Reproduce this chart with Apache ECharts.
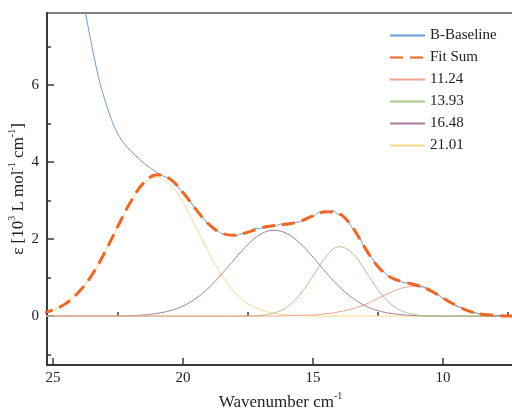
<!DOCTYPE html>
<html>
<head>
<meta charset="utf-8">
<script src="https://cdn.jsdelivr.net/npm/echarts@6/dist/echarts.min.js"></script>
<style>
  html, body { margin: 0; padding: 0; background: #fff; }
  #chart { width: 512px; height: 412px; }
</style>
</head>
<body>
<div id="chart"></div>
<script>
// x grid for the fitted curves (wavenumber, 10^3 cm^-1)
const xs = [25.5, 25, 24.5, 24, 23.5, 23, 22.5, 22, 21.5, 21, 20.5, 20, 19.5, 19, 18.5, 18, 17.5, 17, 16.5,
  16, 15.5, 15, 14.5, 14, 13.5, 13, 12.5, 12, 11.5, 11, 10.5, 10, 9.5, 9, 8.5, 8, 7.5, 7];

const fitSum = [0.07, 0.16, 0.33, 0.63, 1.07, 1.66, 2.34, 2.98, 3.47, 3.67, 3.56, 3.21, 2.77, 2.38, 2.15, 2.10, 2.18, 2.29, 2.35,
  2.39, 2.46, 2.60, 2.71, 2.66, 2.32, 1.77, 1.28, 1.00, 0.88, 0.80, 0.67, 0.47, 0.28, 0.13, 0.05, 0.02, 0.00, 0.00];

const peak1124 = [0, 0, 0, 0, 0, 0, 0, 0, 0, 0, 0, 0, 0, 0, 0, 0, 0, 0, 0,
  0.01, 0.02, 0.03, 0.06, 0.11, 0.19, 0.30, 0.46, 0.62, 0.74, 0.77, 0.67, 0.47, 0.28, 0.13, 0.05, 0.01, 0, 0];

const peak1393 = [0, 0, 0, 0, 0, 0, 0, 0, 0, 0, 0, 0, 0, 0, 0, 0, 0, 0.02, 0.08,
  0.23, 0.56, 1.04, 1.54, 1.80, 1.65, 1.19, 0.68, 0.31, 0.11, 0.03, 0, 0, 0, 0, 0, 0, 0, 0];

const peak1648 = [0, 0, 0, 0, 0, 0, 0, 0.01, 0.03, 0.07, 0.14, 0.26, 0.46, 0.74, 1.10, 1.49, 1.86, 2.13, 2.23,
  2.14, 1.89, 1.53, 1.13, 0.77, 0.48, 0.27, 0.14, 0.07, 0.03, 0.01, 0, 0, 0, 0, 0, 0, 0, 0];

const peak2101 = [0.07, 0.16, 0.33, 0.63, 1.07, 1.66, 2.33, 2.97, 3.44, 3.60, 3.42, 2.95, 2.31, 1.64, 1.05, 0.61, 0.32, 0.16, 0.07,
  0.03, 0.01, 0, 0, 0, 0, 0, 0, 0, 0, 0, 0, 0, 0, 0, 0, 0, 0, 0];

// measured spectrum (baseline corrected)
const dataX = [24.25, 24, 23.75, 23.5, 23.25, 23, 22.75, 22.5, 22.25, 22, 21.75, 21.5, 21.25, 21, 20.75,
  20.5, 20.25, 20, 19.75, 19.5, 19.25, 19, 18.75, 18.5, 18.25, 18, 17.75, 17.5, 17.25, 17, 16.75,
  16.5, 16.25, 16, 15.75, 15.5, 15.25, 15, 14.75, 14.5, 14.25, 14, 13.75, 13.5, 13.25, 13, 12.75,
  12.5, 12.25, 12, 11.75, 11.5, 11.25, 11, 10.75, 10.5, 10.25, 10, 9.75, 9.5, 9.25, 9, 8.75,
  8.5, 8.25, 8, 7.75, 7.5, 7.25];
const dataY = [9.6, 8.9, 7.87, 7.0, 6.2, 5.6, 5.1, 4.72, 4.47, 4.28, 4.12, 3.97, 3.84, 3.73, 3.63,
  3.57, 3.41, 3.20, 3.00, 2.76, 2.57, 2.37, 2.26, 2.14, 2.12, 2.09, 2.14, 2.17, 2.27, 2.28, 2.35,
  2.33, 2.39, 2.36, 2.43, 2.45, 2.56, 2.58, 2.69, 2.68, 2.74, 2.63, 2.56, 2.30, 2.09, 1.75, 1.53,
  1.26, 1.14, 0.98, 0.96, 0.86, 0.87, 0.78, 0.77, 0.65, 0.59, 0.45, 0.39, 0.26, 0.21, 0.11, 0.09,
  0.03, 0.04, 0.00, 0.02, -0.01, 0.07];

const xMajor = [25, 20, 15, 10];
const xMinor = [22.5, 17.5, 12.5, 7.5];
const yMajor = [0, 2, 4, 6];
const yMinor = [-1, 1, 3, 5, 7];

const font = 'Liberation Serif';
const axisColor = '#3a3a3a';

function pairs(x, y) {
  return x.map((v, i) => [v, y[i]]);
}

function curve(name, y, color, width) {
  return {
    name: name,
    type: 'line',
    data: pairs(xs, y),
    smooth: 0.4,
    symbol: 'none',
    lineStyle: { color: color, width: width },
    itemStyle: { color: color },
    z: 2
  };
}

let myChart = echarts.init(document.getElementById('chart'), null, { renderer: 'canvas' });

myChart.setOption({
  animation: false,
  backgroundColor: '#fff',
  grid: {
    left: 47, top: 13, right: -2, bottom: 47,
    outerBoundsMode: 'none',
    containLabel: false,
    show: true, borderColor: '#555', borderWidth: 1.5
  },
  legend: {
    orient: 'vertical',
    left: 389, top: 28,
    itemWidth: 35, itemHeight: 14, itemGap: 7,
    padding: 0,
    itemStyle: { opacity: 0 },
    textStyle: { fontFamily: font, fontSize: 15, color: '#222' },
    data: ['B-Baseline', 'Fit Sum', '11.24', '13.93', '16.48', '21.01']
  },
  xAxis: [
    {
      type: 'value', inverse: true, min: 7.27, max: 25.23,
      name: '{t|Wavenumber cm}{s|-1}',
      nameLocation: 'middle', nameGap: 24,
      nameTextStyle: {
        rich: {
          t: { fontFamily: font, fontSize: 17, color: '#222', verticalAlign: 'bottom', lineHeight: 20 },
          s: { fontFamily: font, fontSize: 10, color: '#222', verticalAlign: 'top', lineHeight: 20 }
        }
      },
      axisLine: { show: true, onZero: false, lineStyle: { color: axisColor, width: 2 } },
      axisTick: { show: true, inside: true, length: 7, customValues: xMajor, lineStyle: { color: axisColor, width: 1.5 } },
      axisLabel: { customValues: xMajor, fontFamily: font, fontSize: 15, color: '#222', margin: 6 },
      splitLine: { show: false }
    },
    {
      type: 'value', inverse: true, min: 7.27, max: 25.23, position: 'bottom',
      axisLine: { show: false },
      axisTick: { show: true, inside: true, length: 4, customValues: xMinor, lineStyle: { color: axisColor, width: 1.5 } },
      axisLabel: { show: false },
      splitLine: { show: false }
    }
  ],
  yAxis: [
    {
      type: 'value', min: -1.27, max: 7.87,
      name: '{t|ε [10}{s|3}{t| L mol}{s|-1}{t| cm}{s|-1}{t|]}',
      nameLocation: 'middle', nameGap: 20, nameRotate: 90,
      nameMoveOverlap: false,
      nameTextStyle: {
        rich: {
          t: { fontFamily: font, fontSize: 17, color: '#222', verticalAlign: 'bottom', lineHeight: 20 },
          s: { fontFamily: font, fontSize: 10, color: '#222', verticalAlign: 'top', lineHeight: 20 }
        }
      },
      axisLine: { show: true, onZero: false, lineStyle: { color: axisColor, width: 2 } },
      axisTick: { show: true, inside: true, length: 7, customValues: yMajor, lineStyle: { color: axisColor, width: 1.5 } },
      axisLabel: { customValues: yMajor, fontFamily: font, fontSize: 15, color: '#222', margin: 8 },
      splitLine: { show: false }
    },
    {
      type: 'value', min: -1.27, max: 7.87, position: 'left',
      axisLine: { show: false },
      axisTick: { show: true, inside: true, length: 4, customValues: yMinor, lineStyle: { color: axisColor, width: 1.5 } },
      axisLabel: { show: false },
      splitLine: { show: false }
    }
  ],
  series: [
    curve('21.01', peak2101, '#f6d98a', 1),
    curve('16.48', peak1648, '#a87c9f', 1),
    curve('13.93', peak1393, '#a6ca88', 1),
    curve('11.24', peak1124, '#f0a08f', 1),
    {
      name: 'B-Baseline',
      type: 'line',
      data: pairs(dataX, dataY),
      smooth: 0.3,
      symbol: 'none',
      lineStyle: { color: '#6f9bd0', width: 1 },
      itemStyle: { color: '#6f9bd0' },
      z: 3
    },
    {
      name: 'Fit Sum',
      type: 'line',
      data: pairs(xs, fitSum),
      smooth: 0.4,
      symbol: 'none',
      lineStyle: { color: '#f26522', width: 3, type: [13, 7] },
      itemStyle: { color: '#f26522' },
      z: 4
    }
  ]
});
</script>
</body>
</html>
